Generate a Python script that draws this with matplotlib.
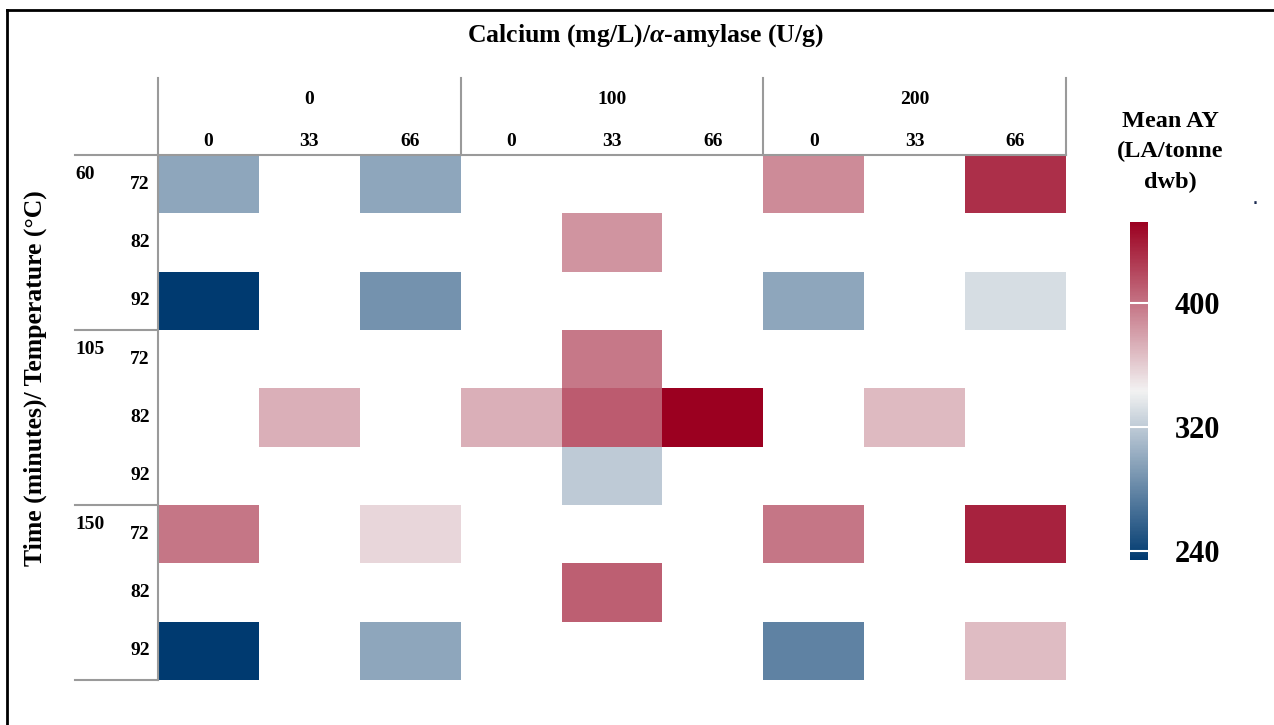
import matplotlib
matplotlib.use("Agg")

import matplotlib.pyplot as plt
import numpy as np
from matplotlib.colors import LinearSegmentedColormap
from matplotlib.lines import Line2D

# calcium (mg/L) groups, alpha-amylase (U/g) within each group
calcium = ["0", "100", "200"]
amylase = ["0", "33", "66"]
# time (minutes) groups, temperature (C) within each group
times = ["60", "105", "150"]
temps = ["72", "82", "92"]

# mean AY (LA/tonne dwb); NaN = no run at that combination
nan = np.nan
ay_60 = [
    [298, nan, 298, nan, nan, nan, 389, nan, 430],
    [nan, nan, nan, nan, 385, nan, nan, nan, nan],
    [234, nan, 286, nan, nan, nan, 298, nan, 331],
]
ay_105 = [
    [nan, nan, nan, nan, 398, nan, nan, nan, nan],
    [nan, 373, nan, 373, 411, 452, nan, 368, nan],
    [nan, nan, nan, nan, 320, nan, nan, nan, nan],
]
ay_150 = [
    [399, nan, 355, nan, nan, nan, 399, nan, 436],
    [nan, nan, nan, nan, 409, nan, nan, nan, nan],
    [234, nan, 298, nan, nan, nan, 277, nan, 367],
]
cbar_ticks = [240, 320, 400]

grid = np.ma.masked_invalid(np.array(ay_60 + ay_105 + ay_150, dtype=float))
cmap = LinearSegmentedColormap.from_list(
    "ay", ["#003a70", "#f2f2f2", "#9b0020"])
vmin, vmax = 234, 452

serif = "Liberation Serif"
plt.rcParams["mathtext.fontset"] = "custom"
plt.rcParams["mathtext.it"] = "Liberation Serif:italic:bold"
plt.rcParams["mathtext.rm"] = "Liberation Serif:bold"

W, H = 1274, 725
fig = plt.figure(figsize=(W / 100, H / 100), dpi=100)

ax = fig.add_axes([158 / W, 1 - 680 / H, 908 / W, 525 / H])
mesh = ax.pcolormesh(np.arange(10), np.arange(10), grid, cmap=cmap,
                     vmin=vmin, vmax=vmax)
ax.set_xlim(0, 9)
ax.set_ylim(9, 0)
ax.axis("off")

lc = "#9a9a9a"
lw = 1.5
fs = 14
# column header
for x in (0, 3, 6, 9):
    ax.plot([x, x], [-1.32, 0], color=lc, lw=lw, clip_on=False)
ax.plot([-0.82, 9], [0, 0], color=lc, lw=lw, clip_on=False)
for i, ca in enumerate(calcium):
    ax.text(3 * i + 1.5, -0.95, ca, ha="center", va="center",
            family=serif, weight="bold", fontsize=fs)
    for j, am in enumerate(amylase):
        ax.text(3 * i + j + 0.5, -0.23, am, ha="center", va="center",
                family=serif, weight="bold", fontsize=fs)
# row header
ax.plot([0, 0], [0, 9], color=lc, lw=lw, clip_on=False)
for y in (3, 6, 9):
    ax.plot([-0.82, 0], [y, y], color=lc, lw=lw, clip_on=False)
for i, t in enumerate(times):
    ax.text(-0.82, 3 * i + 0.34, t, ha="left", va="center",
            family=serif, weight="bold", fontsize=fs)
    for j, tp in enumerate(temps):
        ax.text(-0.08, 3 * i + j + 0.5, tp, ha="right", va="center",
                family=serif, weight="bold", fontsize=fs)

fig.text(645 / W, 1 - 36 / H, "Calcium (mg/L)/$\\alpha$-amylase (U/g)",
         ha="center", va="center", family=serif, weight="bold", fontsize=18.5)
fig.text(35 / W, 1 - 378 / H, "Time (minutes)/ Temperature (°C)",
         ha="center", va="center", rotation=90, family=serif,
         weight="bold", fontsize=18.5)

# colour bar
cax = fig.add_axes([1130 / W, 1 - 560 / H, 18 / W, 338 / H])
cb = fig.colorbar(mesh, cax=cax, ticks=cbar_ticks)
cb.outline.set_visible(False)
cax.tick_params(length=0, pad=19)
for lab in cax.get_yticklabels():
    lab.set_family(serif)
    lab.set_weight("bold")
    lab.set_fontsize(22)
for t in cbar_ticks:
    cax.axhline(t, color="white", lw=1.5)
fig.text(1170 / W, 1 - 152 / H, "Mean AY\n(LA/tonne\ndwb)",
         ha="center", va="center", family=serif, weight="bold",
         fontsize=17.5, linespacing=1.6)
fig.text(1255 / W, 1 - 198 / H, ".", ha="center", va="center",
         fontsize=16, color="#1a2a50")

# frame (left and top edges visible in the original)
fig.add_artist(Line2D([7 / W, 7 / W], [0, 1 - 10 / H], color="black", lw=2))
fig.add_artist(Line2D([7 / W, 1], [1 - 10 / H, 1 - 10 / H], color="black", lw=2))

fig.savefig("out.png", dpi=100)
